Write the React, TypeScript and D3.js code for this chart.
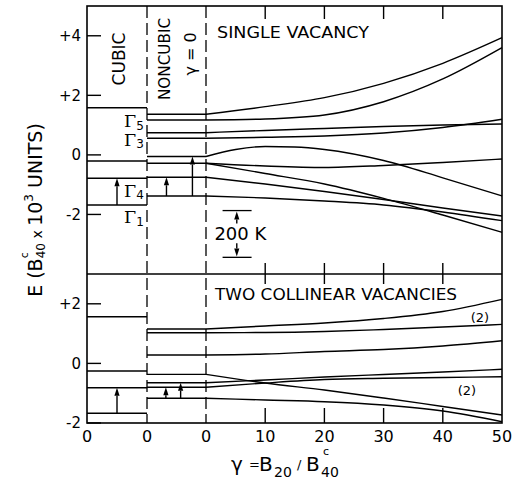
import React from "react";
import * as d3 from "d3";

// ---------- data (energies in units of B40c x 10^3) ----------
const GAMMA = [0, 10, 20, 30, 40, 50];
const GAMMA_HUMP = [0, 5, 10, 15, 20, 30, 40, 50];
const X_TICKS = [10, 20, 30, 40];
const X_LABEL_VALUES = [10, 20, 30, 40, 50];

const TOP_Y_TICKS = [4, 2, 0, -2];
const TOP_Y_LABELS = ["+4", "+2", "0", "-2"];
const BOT_Y_TICKS = [2, 0, -2];
const BOT_Y_LABELS = ["+2", "0", "-2"];

// single vacancy
const singleCubic = [1.585, -0.205, -0.786, -1.682];
const singleNoncubic = [1.363, 1.172, 0.745, 0.557, -0.054, -0.282, -0.752, -1.38];
const sA = [1.363, 1.619, 1.921, 2.404, 3.076, 3.935];
const sB = [1.172, 1.205, 1.34, 1.786, 2.549, 3.6];
const sC = [0.745, 0.82, 0.887, 0.954, 1.004, 1.038];
const sD = [0.557, 0.591, 0.635, 0.735, 0.92, 1.195];
const sE = [-0.054, 0.181, 0.282, 0.265, 0.181, -0.188, -0.77, -1.38]; // on GAMMA_HUMP
const sF = [-0.282, -0.373, -0.423, -0.356, -0.255, -0.138];
const sG = [-0.282, -0.625, -0.977, -1.46, -2.018, -2.6];
const sH = [-0.752, -0.977, -1.229, -1.498, -1.783, -2.052];
const sI = [-1.38, -1.447, -1.548, -1.682, -1.917, -2.21];

// two collinear vacancies
const twoCubic = [1.567, -0.255, -0.815, -1.675];
const twoNoncubic = [1.154, 1.03, 0.28, -0.367, -0.648, -0.802, -1.171];
const t1 = [1.154, 1.255, 1.356, 1.507, 1.742, 2.15];
const t2 = [1.03, 1.037, 1.07, 1.138, 1.22, 1.31];
const t3 = [0.28, 0.315, 0.4, 0.466, 0.584, 0.76];
const tL1 = [-0.367, -0.658, -0.893, -1.161, -1.446, -1.73];
const tL2 = [-0.648, -0.557, -0.456, -0.372, -0.289, -0.198];
const tL3 = [-0.802, -0.658, -0.54, -0.5, -0.473, -0.446];
const tL4 = [-1.171, -1.228, -1.285, -1.396, -1.597, -1.956];

// arrows: [column position fraction, from E, to E]
const singleCubicArrows = [[0.5, -1.682, -0.786]];
const singleNonArrows = [[0.33, -1.38, -0.752], [0.77, -1.38, -0.054]];
const twoCubicArrows = [[0.5, -1.675, -0.815]];
const twoNonArrows = [[0.32, -1.171, -0.802], [0.57, -1.171, -0.648]];

// Gamma labels (cubic irreps): [name, subscript, E of baseline]
const gammaLabels: [string, string, number][] = [
  ["Γ", "5", 0.93],
  ["Γ", "3", 0.3],
  ["Γ", "4", -1.41],
  ["Γ", "1", -2.29],
];

// ---------- layout ----------
const W = 518;
const H = 485;
const L = 87;
const R = 502;
const T = 6;
const M = 274;
const B = 423;
const XC = 147;
const X0 = 206;

const SANS = "'DejaVu Sans', sans-serif";

function Arrow({ x, y1, y2 }: { x: number; y1: number; y2: number }) {
  const s = Math.sign(y2 - y1);
  const hl = 8;
  const hw = 2.6;
  return (
    <g>
      <line x1={x} x2={x} y1={y1} y2={y2 - s * hl} stroke="#000" strokeWidth={1.4} />
      <polygon
        points={`${x},${y2} ${x - hw},${y2 - s * hl} ${x + hw},${y2 - s * hl}`}
        fill="#000"
      />
    </g>
  );
}

export default function App() {
  const xG = d3.scaleLinear().domain([0, 50]).range([X0, R]);
  const xCub = d3.scaleLinear().domain([0, 1]).range([L, XC]);
  const xNon = d3.scaleLinear().domain([0, 1]).range([XC, X0]);
  const yTop = d3.scaleLinear().domain([-4, 5]).range([M, T]);
  const yBot = d3.scaleLinear().domain([-2, 3]).range([B, M]);

  const mkLine = (y: d3.ScaleLinear<number, number>) =>
    d3
      .line<[number, number]>()
      .x((d) => xG(d[0]))
      .y((d) => y(d[1]))
      .curve(d3.curveMonotoneX);
  const lineTop = mkLine(yTop);
  const lineBot = mkLine(yBot);
  const zip = (g: number[], e: number[]) => g.map((v, i) => [v, e[i]] as [number, number]);

  const topCurves = [
    zip(GAMMA, sA),
    zip(GAMMA, sB),
    zip(GAMMA, sC),
    zip(GAMMA, sD),
    zip(GAMMA_HUMP, sE),
    zip(GAMMA, sF),
    zip(GAMMA, sG),
    zip(GAMMA, sH),
    zip(GAMMA, sI),
  ];
  const botCurves = [t1, t2, t3, tL1, tL2, tL3, tL4].map((e) => zip(GAMMA, e));

  const lw = 1.4;

  return (
    <svg
      width={W}
      height={H}
      style={{ position: "absolute", left: 0, top: 0, background: "#fff" }}
      fontFamily={SANS}
    >
      <rect x={0} y={0} width={W} height={H} fill="#fff" />

      {/* dashed separators */}
      {[XC, X0].map((x) => (
        <line key={x} x1={x} x2={x} y1={T} y2={B} stroke="#000" strokeWidth={1.3} strokeDasharray="12,5" />
      ))}

      {/* cubic levels */}
      {singleCubic.map((e, i) => (
        <line key={"sc" + i} x1={L} x2={XC} y1={yTop(e)} y2={yTop(e)} stroke="#000" strokeWidth={lw} />
      ))}
      {twoCubic.map((e, i) => (
        <line key={"tc" + i} x1={L} x2={XC} y1={yBot(e)} y2={yBot(e)} stroke="#000" strokeWidth={lw} />
      ))}
      {/* noncubic levels */}
      {singleNoncubic.map((e, i) => (
        <line key={"sn" + i} x1={XC} x2={X0} y1={yTop(e)} y2={yTop(e)} stroke="#000" strokeWidth={lw} />
      ))}
      {twoNoncubic.map((e, i) => (
        <line key={"tn" + i} x1={XC} x2={X0} y1={yBot(e)} y2={yBot(e)} stroke="#000" strokeWidth={lw} />
      ))}

      {/* gamma curves */}
      {topCurves.map((c, i) => (
        <path key={"tcv" + i} d={lineTop(c) || ""} fill="none" stroke="#000" strokeWidth={lw} />
      ))}
      {botCurves.map((c, i) => (
        <path key={"bcv" + i} d={lineBot(c) || ""} fill="none" stroke="#000" strokeWidth={lw} />
      ))}

      {/* arrows */}
      {singleCubicArrows.map(([f, a, b], i) => (
        <Arrow key={"a1" + i} x={xCub(f)} y1={yTop(a)} y2={yTop(b)} />
      ))}
      {singleNonArrows.map(([f, a, b], i) => (
        <Arrow key={"a2" + i} x={xNon(f)} y1={yTop(a)} y2={yTop(b)} />
      ))}
      {twoCubicArrows.map(([f, a, b], i) => (
        <Arrow key={"a3" + i} x={xCub(f)} y1={yBot(a)} y2={yBot(b)} />
      ))}
      {twoNonArrows.map(([f, a, b], i) => (
        <Arrow key={"a4" + i} x={xNon(f)} y1={yBot(a)} y2={yBot(b)} />
      ))}

      {/* 200 K scale bar */}
      <g>
        <line x1={xG(2.8)} x2={xG(7.7)} y1={yTop(-1.87)} y2={yTop(-1.87)} stroke="#000" strokeWidth={1.3} />
        <line x1={xG(2.8)} x2={xG(7.7)} y1={yTop(-3.44)} y2={yTop(-3.44)} stroke="#000" strokeWidth={1.3} />
        <Arrow x={xG(5.2)} y1={yTop(-2.3)} y2={yTop(-1.9)} />
        <Arrow x={xG(5.2)} y1={yTop(-2.97)} y2={yTop(-3.41)} />
        <text x={xG(5.8)} y={239.5} textAnchor="middle" fontSize={18}>200 K</text>
      </g>

      {/* frame */}
      <rect x={L} y={T} width={R - L} height={B - T} fill="none" stroke="#000" strokeWidth={1.6} />
      <line x1={L} x2={R} y1={M} y2={M} stroke="#000" strokeWidth={1.6} />

      {/* x ticks */}
      {X_TICKS.map((g) => (
        <g key={"xt" + g} stroke="#000" strokeWidth={1.4}>
          <line x1={xG(g)} x2={xG(g)} y1={T} y2={T + 13} />
          <line x1={xG(g)} x2={xG(g)} y1={M - 11} y2={M + 10} />
          <line x1={xG(g)} x2={xG(g)} y1={B} y2={B - 15} />
        </g>
      ))}

      {/* y ticks */}
      {TOP_Y_TICKS.map((v) => (
        <line key={"ty" + v} x1={L} x2={L + 14} y1={yTop(v)} y2={yTop(v)} stroke="#000" strokeWidth={1.4} />
      ))}
      {BOT_Y_TICKS.map((v) => (
        <line key={"by" + v} x1={L} x2={L + 14} y1={yBot(v)} y2={yBot(v)} stroke="#000" strokeWidth={1.4} />
      ))}
      {TOP_Y_TICKS.map((v, i) => (
        <text key={"tyl" + v} x={81} y={yTop(v)} dy="0.36em" textAnchor="end" fontSize={15}>
          {TOP_Y_LABELS[i]}
        </text>
      ))}
      {BOT_Y_TICKS.map((v, i) => (
        <text key={"byl" + v} x={81} y={yBot(v)} dy="0.36em" textAnchor="end" fontSize={15}>
          {BOT_Y_LABELS[i]}
        </text>
      ))}

      {/* x tick labels */}
      {[L, XC, X0].map((x) => (
        <text key={"x0" + x} x={x} y={442} textAnchor="middle" fontSize={16}>0</text>
      ))}
      {X_LABEL_VALUES.map((g) => (
        <text key={"xl" + g} x={xG(g)} y={442} textAnchor="middle" fontSize={16}>{g}</text>
      ))}

      {/* panel texts */}
      <text transform="translate(125,59) rotate(-90)" textAnchor="middle" fontSize={17}>CUBIC</text>
      <text transform="translate(170,59) rotate(-90)" textAnchor="middle" fontSize={16} textLength={82} lengthAdjust="spacingAndGlyphs">NONCUBIC</text>
      <text transform="translate(196,54) rotate(-90)" textAnchor="middle" fontSize={16}>γ = 0</text>
      <text x={217} y={38} fontSize={16} textLength={152} lengthAdjust="spacingAndGlyphs">SINGLE VACANCY</text>
      <text x={215} y={300} fontSize={16} textLength={242} lengthAdjust="spacingAndGlyphs">TWO COLLINEAR VACANCIES</text>
      <text x={480} y={322} textAnchor="middle" fontSize={13}>(2)</text>
      <text x={467} y={395} textAnchor="middle" fontSize={13}>(2)</text>

      {/* Gamma labels */}
      {gammaLabels.map(([g, s, e]) => (
        <text key={"gl" + s} x={124} y={yTop(e)} fontSize={17.5} fontFamily="'DejaVu Serif', serif">
          {g}
          <tspan fontSize={12} dy={2.5} fontFamily={SANS}>{s}</tspan>
        </text>
      ))}

      {/* y axis title */}
      <text transform="translate(42,210) rotate(-90)" textAnchor="middle" fontSize={19}>
        E (B
        <tspan fontSize={11} dy={-14}>c</tspan>
        <tspan fontSize={12} dx={-6} dy={17}>40</tspan>
        <tspan fontSize={14} dy={-3}> x </tspan>
        <tspan>10</tspan>
        <tspan fontSize={12} dy={-9}>3</tspan>
        <tspan dy={9}> UNITS)</tspan>
      </text>

      {/* x axis title */}
      <text fontSize={20}>
        <tspan x={231} y={471}>γ</tspan>
        <tspan x={249} y={469} fontSize={13}>=</tspan>
        <tspan x={259} y={471}>B</tspan>
        <tspan x={274} y={477} fontSize={14}>20</tspan>
        <tspan x={297} y={469} fontSize={13}>/</tspan>
        <tspan x={306} y={471}>B</tspan>
        <tspan x={323} y={455} fontSize={11}>c</tspan>
        <tspan x={321} y={477} fontSize={14}>40</tspan>
      </text>
    </svg>
  );
}
